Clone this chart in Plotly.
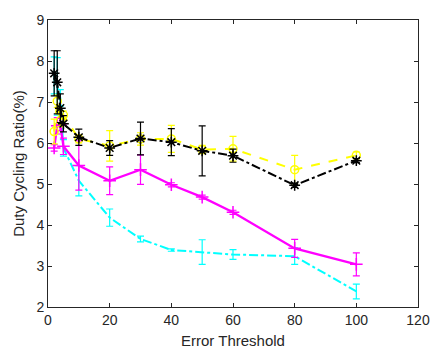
import plotly.graph_objects as go

x = [2, 3, 4, 5, 10, 20, 30, 40, 50, 60, 80, 100]

black_y = [7.70, 7.48, 6.85, 6.47, 6.14, 5.88, 6.11, 6.02, 5.81, 5.69, 4.97, 5.57]
black_e = [0.55, 0.77, 0.35, 0.20, 0.20, 0.18, 0.40, 0.33, 0.61, 0.16, 0.05, 0.05]

yellow_y = [6.28, 7.02, 6.55, 6.68, 6.10, 5.93, 6.10, 6.10, 5.84, 5.86, 5.35, 5.70]
yellow_e = [0.30, 0.15, 0.15, 0.10, 0.10, 0.37, 0.15, 0.33, 0.10, 0.30, 0.35, 0.08]

magenta_y = [5.88, 6.42, 6.45, 5.92, 5.45, 5.08, 5.35, 4.98, 4.68, 4.31, 3.43, 3.04]
magenta_e = [0.08, 0.20, 0.15, 0.20, 0.60, 0.34, 0.36, 0.05, 0.05, 0.05, 0.22, 0.28]

cyan_y = [7.65, 7.38, 7.10, 5.88, 5.08, 4.18, 3.66, 3.39, 3.34, 3.28, 3.24, 2.38]
cyan_e = [0.45, 0.70, 0.20, 0.20, 0.37, 0.21, 0.07, 0.03, 0.30, 0.12, 0.20, 0.18]

x_ticks = [0, 20, 40, 60, 80, 100, 120]
y_ticks = [2, 3, 4, 5, 6, 7, 8, 9]

FONT = "Liberation Sans, Arial, sans-serif"

fig = go.Figure()


def add(y, e, color, dash, symbol, msize, width):
    fig.add_trace(go.Scatter(
        x=x, y=y, mode="lines+markers" if symbol else "lines",
        line=dict(color=color, width=width, dash=dash),
        marker=dict(symbol=symbol or "circle", size=msize, color=color,
                    line=dict(color=color, width=1.5)),
        error_y=dict(type="data", array=e, visible=True, color=color,
                     thickness=1.2, width=3.5),
        showlegend=False,
    ))


add(cyan_y, cyan_e, "#00FFFF", "dashdot", None, 0, 2)
add(magenta_y, magenta_e, "#FF00FF", "solid", "cross-thin-open", 9, 2.3)
add(yellow_y, yellow_e, "#FFFF00", "dash", "circle-open", 8, 2)
add(black_y, black_e, "#000000", "dashdot", "asterisk-open", 9, 2)

axis_common = dict(
    showline=True, linecolor="#262626", linewidth=1, mirror="ticks",
    ticks="inside", ticklen=4, tickcolor="#262626", showgrid=False,
    zeroline=False, tickfont=dict(size=14, color="#262626", family=FONT),
)

fig.update_xaxes(range=[0, 120], tickvals=x_ticks,
                 title=dict(text="Error Threshold", standoff=8,
                            font=dict(size=15, color="#262626", family=FONT)),
                 **axis_common)
fig.update_yaxes(range=[2, 9], tickvals=y_ticks,
                 title=dict(text="Duty Cycling Ratio(%)", standoff=8,
                            font=dict(size=15, color="#262626", family=FONT)),
                 **axis_common)

fig.update_layout(
    width=442, height=358,
    margin=dict(l=48, r=12, t=14, b=48),
    paper_bgcolor="white", plot_bgcolor="white",
)

fig.write_html("out.html")
